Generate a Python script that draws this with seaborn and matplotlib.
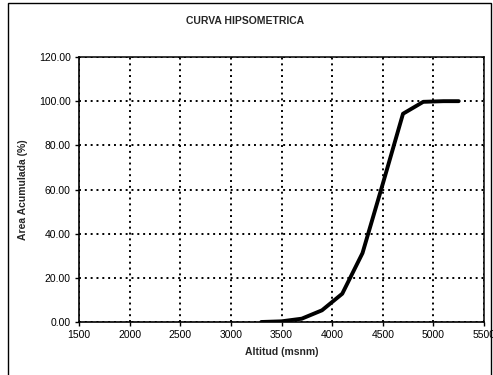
import matplotlib
matplotlib.use("Agg")
import matplotlib.pyplot as plt
import seaborn as sns
import pandas as pd
from matplotlib.patches import Rectangle

altitud = [3300, 3500, 3700, 3900, 4100, 4300, 4500, 4700, 4900, 5100, 5250]
area_acum = [0.0, 0.3, 1.5, 5.3, 12.8, 31.2, 62.5, 94.3, 99.7, 100.0, 100.0]
x_ticks = [1500, 2000, 2500, 3000, 3500, 4000, 4500, 5000, 5500]
y_ticks = [0, 20, 40, 60, 80, 100, 120]

sns.set_style("white")
plt.rcParams['font.family'] = ['Liberation Sans', 'DejaVu Sans']

df = pd.DataFrame({"Altitud": altitud, "Area": area_acum})

fig = plt.figure(figsize=(4.93, 3.75), dpi=100)
ax = fig.add_axes([79/493, 53/375, 405/493, 265/375])

# outer frame
fig.patches.append(Rectangle((8/493, -0.05), (491-8)/493, (372-0)/375 + 0.05,
                             transform=fig.transFigure, fill=False,
                             edgecolor="black", linewidth=1.0))

sns.lineplot(data=df, x="Altitud", y="Area", ax=ax, color="black",
             linewidth=2.8, zorder=5)

ax.set_xlim(1500, 5500)
ax.set_ylim(0, 120)
ax.set_xticks(x_ticks)
ax.set_yticks(y_ticks)
ax.set_xticklabels([str(v) for v in x_ticks], fontsize=7.5)
ax.set_yticklabels([f"{v:.2f}" for v in y_ticks], fontsize=7.5)

ax.grid(True, color="black", linestyle=(0, (1.0, 2.0)), linewidth=1.4)
ax.set_axisbelow(True)

for side in ["top", "right"]:
    ax.spines[side].set_visible(True)
    ax.spines[side].set_color("black")
    ax.spines[side].set_linewidth(1.1)
    ax.spines[side].set_linestyle((0, (2.5, 1.0)))
for side in ["left", "bottom"]:
    ax.spines[side].set_visible(True)
    ax.spines[side].set_color("black")
    ax.spines[side].set_linewidth(1.2)

ax.tick_params(axis="both", direction="out", length=3, width=1, color="black",
               pad=3, labelcolor="black", left=True, bottom=True)

ax.set_xlabel("Altitud (msnm)", fontsize=7.5, fontweight="bold", labelpad=5)
ax.set_ylabel("Area Acumulada (%)", fontsize=7.5, fontweight="bold", labelpad=8)
fig.text(245/493, 1 - 21/375, "CURVA HIPSOMETRICA", fontsize=7.5,
         fontweight="bold", ha="center", va="center")

fig.savefig("out.png", dpi=100)
